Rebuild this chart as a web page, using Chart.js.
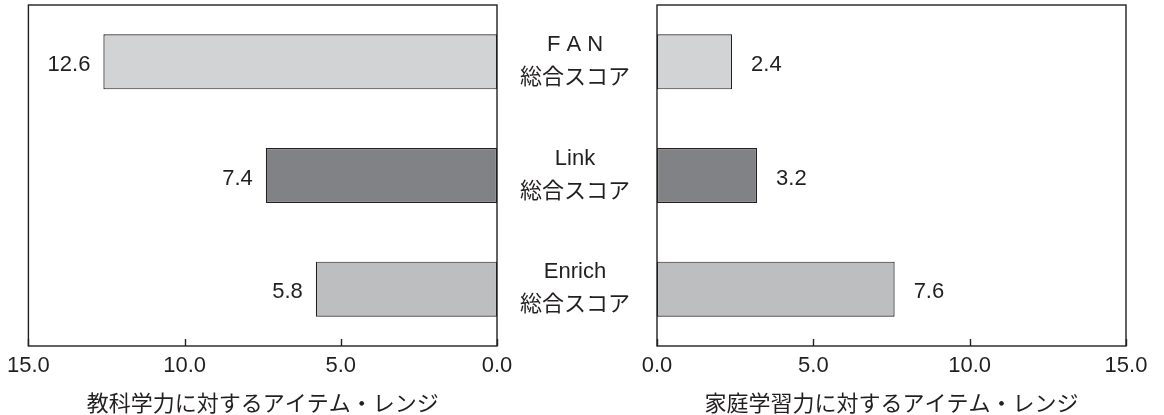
<!DOCTYPE html>
<html lang="ja">
<head>
<meta charset="utf-8">
<title>アイテム・レンジ</title>
<script src="https://cdn.jsdelivr.net/npm/chart.js@4/dist/chart.umd.min.js"></script>
<style>
  html, body { margin: 0; padding: 0; background: #ffffff; }
  #wrap { position: relative; width: 1164px; height: 415px; }
  #wrap canvas { position: absolute; left: 0; top: 0; }
</style>
</head>
<body>
<div id="wrap">
  <canvas id="leftChart" width="1164" height="415"></canvas>
  <canvas id="rightChart" width="1164" height="415"></canvas>
</div>
<script>
// Score categories and their two-line names shown between the panels
const categories = ['FAN', 'Link', 'Enrich'];
const categoryLines = [
  ['F A N', '総合スコア'],
  ['Link', '総合スコア'],
  ['Enrich', '総合スコア']
];
// Item ranges for academic ability (left) and home-learning ability (right)
const academicRange = [12.6, 7.4, 5.8];
const homeRange = [2.4, 3.2, 7.6];
// Axis settings and titles
const axisMin = 0;
const axisMax = 15;
const axisStep = 5;
const leftTitle = '教科学力に対するアイテム・レンジ';
const rightTitle = '家庭学習力に対するアイテム・レンジ';

const barColors = ['#d1d3d4', '#808285', '#bcbec0'];
const ink = '#231f20';
const FONT = "'Liberation Sans', Arial, 'Noto Sans CJK JP', sans-serif";

// Frame around the plot area plus short inward tick marks on the value axis
const framePlugin = {
  id: 'frame',
  afterDatasetsDraw(chart) {
    const { ctx, chartArea: a, scales: { x } } = chart;
    ctx.save();
    ctx.strokeStyle = ink;
    ctx.lineWidth = 1.4;
    ctx.strokeRect(a.left, a.top, a.right - a.left, a.bottom - a.top);
    x.ticks.forEach(t => {
      const px = Math.round(x.getPixelForValue(t.value)) + 0.5;
      ctx.beginPath();
      ctx.moveTo(px, a.bottom);
      ctx.lineTo(px, a.bottom - 7);
      ctx.stroke();
    });
    ctx.restore();
  }
};

// Value printed just beyond the end of each bar
const valueLabelPlugin = {
  id: 'valueLabels',
  afterDatasetsDraw(chart, args, opts) {
    const { ctx } = chart;
    const meta = chart.getDatasetMeta(0);
    const values = chart.data.datasets[0].data;
    ctx.save();
    ctx.font = '22px ' + FONT;
    ctx.fillStyle = ink;
    ctx.textBaseline = 'middle';
    ctx.textAlign = opts.side === 'left' ? 'right' : 'left';
    meta.data.forEach((bar, i) => {
      const x = opts.side === 'left' ? bar.x - 13 : bar.x + 19;
      ctx.fillText(values[i].toFixed(1), x, bar.y + 3);
    });
    ctx.restore();
  }
};

// Category names centred in the gap between the two panels
const categoryNamePlugin = {
  id: 'categoryNames',
  afterDraw(chart, args, opts) {
    const { ctx, scales: { y } } = chart;
    ctx.save();
    ctx.font = '22px ' + FONT;
    ctx.fillStyle = ink;
    ctx.textAlign = 'center';
    ctx.textBaseline = 'middle';
    categoryLines.forEach((lines, i) => {
      const cy = y.getPixelForValue(i);
      ctx.fillText(lines[0], opts.x, cy - 17);
      ctx.fillText(lines[1], opts.x, cy + 16);
    });
    ctx.restore();
  }
};

function makeChart(id, values, reverse, title, padLeft, padRight, side) {
  return new Chart(document.getElementById(id), {
    type: 'bar',
    data: {
      labels: categories,
      datasets: [{
        data: values,
        backgroundColor: barColors,
        borderColor: ink,
        borderWidth: 1.2,
        borderSkipped: false,
        categoryPercentage: 1,
        barPercentage: 0.484
      }]
    },
    options: {
      indexAxis: 'y',
      responsive: false,
      animation: false,
      events: [],
      layout: { padding: { left: padLeft, right: padRight, top: 5, bottom: 0 } },
      plugins: {
        legend: { display: false },
        tooltip: { enabled: false },
        valueLabels: { side: side },
        categoryNames: { x: 575 }
      },
      scales: {
        x: {
          type: 'linear',
          reverse: reverse,
          min: axisMin,
          max: axisMax,
          grid: { display: false, drawTicks: false },
          border: { display: false },
          ticks: {
            stepSize: axisStep,
            padding: 7,
            maxRotation: 0,
            color: ink,
            font: { family: FONT, size: 22 },
            callback: v => Number(v).toFixed(1)
          },
          title: {
            display: true,
            text: title,
            color: ink,
            font: { family: FONT, size: 22 },
            padding: { top: 4, bottom: -3 }
          },
          afterFit(scale) { scale.height = 69; }
        },
        y: { display: false }
      }
    },
    plugins: side === 'right'
      ? [framePlugin, valueLabelPlugin, categoryNamePlugin]
      : [framePlugin, valueLabelPlugin]
  });
}

makeChart('leftChart', academicRange, true, leftTitle, 27, 1164 - 497, 'left');
makeChart('rightChart', homeRange, false, rightTitle, 657, 1164 - 1126, 'right');
</script>
</body>
</html>
